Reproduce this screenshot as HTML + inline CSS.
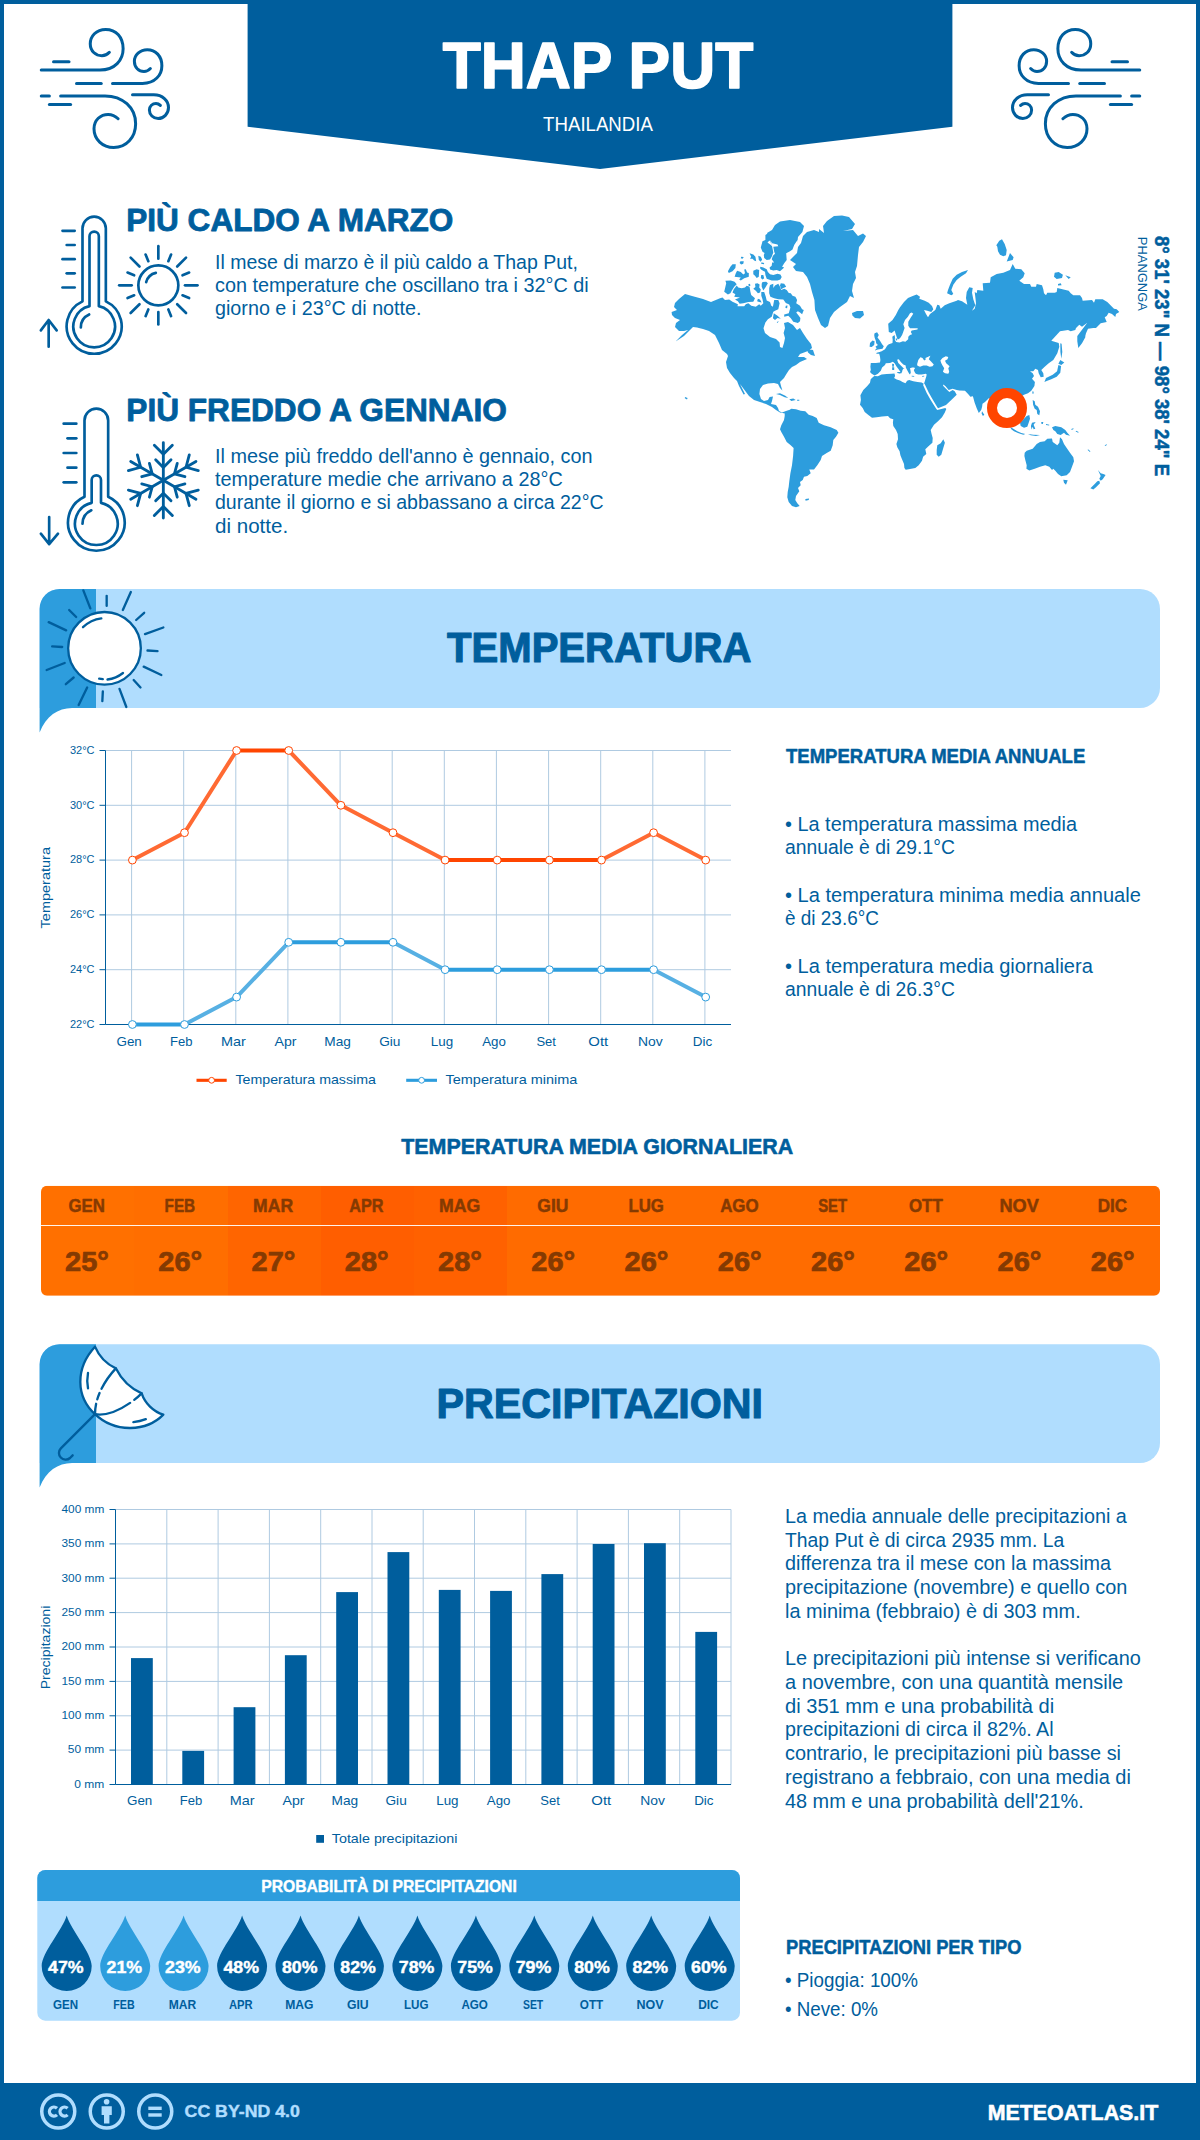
<!DOCTYPE html>
<html><head><meta charset="utf-8"><title>Thap Put</title>
<style>html,body{margin:0;padding:0;background:#fff}svg{display:block}text{font-family:"Liberation Sans",sans-serif;white-space:pre}</style></head>
<body><svg width="1200" height="2140" viewBox="0 0 1200 2140">
<rect x="0" y="0" width="1200" height="2140" fill="#fff"/>
<rect x="2" y="2" width="1196" height="2136" fill="none" stroke="#005e9d" stroke-width="4"/>
<path d="M247.6,0 H952.4 V126.8 L600,169 L247.6,126.8 Z" fill="#005e9d"/>
<g transform="translate(30,20) scale(0.125)" fill="none" stroke="#005e9d" stroke-width="24" stroke-linecap="round" stroke-linejoin="round"><path d="M90,400 H560 C680,400 745,320 745,230 C745,140 690,75 605,75 C530,75 482,130 482,190 C482,250 525,285 575,285 C600,285 620,275 635,258"/><path d="M188,333 H312"/><path d="M660,507 H900 C1000,507 1055,440 1055,365 C1055,290 1005,237 938,237 C880,237 835,280 835,330 C835,380 870,412 912,412 C935,412 950,402 963,388"/><path d="M372,507 H570"/><path d="M245,607 H600 C740,607 845,700 845,830 C845,940 770,1020 670,1020 C580,1020 512,955 512,870 C512,800 565,755 625,755 C660,755 685,770 705,790"/><path d="M90,607 H155"/><path d="M155,675 H325"/><path d="M820,598 H990 C1060,598 1108,645 1108,700 C1108,750 1070,788 1025,788 C985,788 955,757 955,720 C955,690 980,667 1008,667 C1025,667 1035,675 1043,683"/></g>
<g transform="translate(1151,20) scale(-0.125,0.125)" fill="none" stroke="#005e9d" stroke-width="24" stroke-linecap="round" stroke-linejoin="round"><path d="M90,400 H560 C680,400 745,320 745,230 C745,140 690,75 605,75 C530,75 482,130 482,190 C482,250 525,285 575,285 C600,285 620,275 635,258"/><path d="M188,333 H312"/><path d="M660,507 H900 C1000,507 1055,440 1055,365 C1055,290 1005,237 938,237 C880,237 835,280 835,330 C835,380 870,412 912,412 C935,412 950,402 963,388"/><path d="M372,507 H570"/><path d="M245,607 H600 C740,607 845,700 845,830 C845,940 770,1020 670,1020 C580,1020 512,955 512,870 C512,800 565,755 625,755 C660,755 685,770 705,790"/><path d="M90,607 H155"/><path d="M155,675 H325"/><path d="M820,598 H990 C1060,598 1108,645 1108,700 C1108,750 1070,788 1025,788 C985,788 955,757 955,720 C955,690 980,667 1008,667 C1025,667 1035,675 1043,683"/></g>
<g transform="translate(20,190) scale(0.16667)" fill="none" stroke="#005e9d" stroke-width="16" stroke-linecap="round" stroke-linejoin="round"><path d="M375,668 V230 A70,70 0 0 1 515,230 V668 A165,165 0 1 1 375,668 Z"/><path d="M417,697 V278 A28,28 0 0 1 473,278 V697 A125,125 0 1 1 417,697 Z"/><path d="M365,825 A85,85 0 0 1 415,747"/><path d="M255,245 H328"/><path d="M280,330 H328"/><path d="M255,415 H328"/><path d="M280,500 H328"/><path d="M255,585 H328"/><path d="M172,940 V785 M125,842 L172,780 L220,842"/><circle cx="830" cy="572" r="120"/><path d="M757,553 A78,78 0 0 1 815,497"/><path d="M990.0,572.0 L1065.0,572.0"/><path d="M975.0,632.1 L1014.8,648.5"/><path d="M943.1,685.1 L996.2,738.2"/><path d="M890.1,717.0 L906.5,756.8"/><path d="M830.0,732.0 L830.0,807.0"/><path d="M769.9,717.0 L753.5,756.8"/><path d="M716.9,685.1 L663.8,738.2"/><path d="M685.0,632.1 L645.2,648.5"/><path d="M670.0,572.0 L595.0,572.0"/><path d="M685.0,511.9 L645.2,495.5"/><path d="M716.9,458.9 L663.8,405.8"/><path d="M769.9,427.0 L753.5,387.2"/><path d="M830.0,412.0 L830.0,337.0"/><path d="M890.1,427.0 L906.5,387.2"/><path d="M943.1,458.9 L996.2,405.8"/><path d="M975.0,511.9 L1014.8,495.5"/></g>
<g transform="translate(20,380) scale(0.16667)" fill="none" stroke="#005e9d" stroke-width="16" stroke-linecap="round" stroke-linejoin="round"><path d="M387,700 V243 A71,71 0 0 1 529,243 V700 A170,170 0 1 1 387,700 Z"/><path d="M430,737 V600 A28,28 0 0 1 486,600 V737 A128,128 0 1 1 430,737 Z"/><path d="M375,862 A90,90 0 0 1 428,782"/><path d="M262,262 H338"/><path d="M285,350 H338"/><path d="M262,438 H338"/><path d="M285,526 H338"/><path d="M262,614 H338"/><path d="M175,822 V982 M125,922 L175,985 L228,922"/><g stroke-width="17"><path d="M860,602 L860.0,376.0"/><path d="M914.0,391.0 L860.0,445.0 L806.0,391.0"/><path d="M906.0,479.0 L860.0,525.0 L814.0,479.0"/><path d="M860,602 L1055.7,489.0"/><path d="M1069.7,543.3 L996.0,523.5 L1015.7,449.7"/><path d="M989.5,580.3 L926.7,563.5 L943.5,500.7"/><path d="M860,602 L1055.7,715.0"/><path d="M1015.7,754.3 L996.0,680.5 L1069.7,660.7"/><path d="M943.5,703.3 L926.7,640.5 L989.5,623.7"/><path d="M860,602 L860.0,828.0"/><path d="M806.0,813.0 L860.0,759.0 L914.0,813.0"/><path d="M814.0,725.0 L860.0,679.0 L906.0,725.0"/><path d="M860,602 L664.3,715.0"/><path d="M650.3,660.7 L724.0,680.5 L704.3,754.3"/><path d="M730.5,623.7 L793.3,640.5 L776.5,703.3"/><path d="M860,602 L664.3,489.0"/><path d="M704.3,449.7 L724.0,523.5 L650.3,543.3"/><path d="M776.5,500.7 L793.3,563.5 L730.5,580.3"/></g></g>
<path d="M685.0,294.0 692.0,296.0 703.0,299.0 711.0,302.0 720.0,298.3 722.5,297.5 725.0,300.0 729.2,299.6 732.5,301.7 737.9,304.2 737.5,306.3 744.2,306.3 745.8,304.2 748.3,303.3 751.3,305.8 755.8,306.7 759.2,304.2 760.8,305.8 763.3,303.3 762.5,299.2 761.3,295.8 761.3,292.1 764.2,292.1 765.8,296.7 766.7,300.4 770.0,302.1 771.3,305.8 772.9,306.7 774.2,300.0 778.3,300.0 779.6,303.3 778.3,309.2 775.0,310.8 773.3,311.7 771.7,316.7 767.9,319.2 765.4,322.5 763.5,328.3 765.0,333.0 770.0,337.0 776.0,339.0 779.6,342.4 780.0,347.0 782.4,348.0 784.0,343.0 785.0,338.0 783.6,333.0 785.0,328.0 784.0,323.0 788.0,322.0 793.0,325.0 797.0,330.0 800.0,328.0 803.0,333.0 807.0,339.0 811.0,344.0 812.0,348.0 808.0,351.0 800.0,354.0 798.0,357.0 804.0,357.0 807.0,359.0 800.0,362.0 796.0,365.0 792.0,367.0 789.0,370.0 786.4,374.0 784.0,378.0 780.0,382.0 781.0,386.0 782.4,390.6 780.0,388.0 778.0,384.0 774.0,383.0 768.0,383.6 763.0,385.0 760.0,389.0 759.4,394.0 761.0,399.0 764.0,401.0 768.0,400.0 769.6,397.0 773.0,396.4 772.0,401.0 771.0,404.0 776.0,405.0 778.0,408.0 779.0,411.0 782.0,412.4 786.0,411.0 789.0,410.0 788.0,413.0 785.0,413.6 780.0,412.4 776.0,410.0 772.0,407.0 766.0,404.0 760.0,402.0 754.0,400.0 749.0,396.0 746.0,392.0 743.0,388.0 740.0,384.0 737.0,381.0 734.0,378.0 730.0,373.0 727.0,368.0 726.0,362.0 728.0,356.0 727.0,354.0 722.0,350.0 719.0,343.0 715.0,335.0 709.0,331.0 703.0,329.0 697.0,327.6 693.0,327.0 692.0,328.0 684.0,336.0 675.6,341.6 682.0,335.0 688.0,330.0 684.0,331.0 679.0,331.0 675.0,327.0 676.0,323.0 680.0,320.0 675.0,318.0 672.0,315.0 671.6,312.0 677.0,310.0 674.0,307.0 675.0,303.0 679.0,299.0ZM737.0,381.0 739.0,382.0 745.0,394.0 743.6,394.4 739.0,386.0ZM807.0,349.0 813.0,350.0 815.0,356.0 811.0,355.0 808.0,352.4ZM776.0,394.0 780.0,393.3 785.3,395.7 788.3,398.0 784.7,397.3 780.0,395.1ZM789.3,399.3 793.3,398.4 795.7,400.0 791.3,400.9ZM797.1,399.7 799.3,399.7 799.3,400.7 797.1,400.7ZM685.0,397.0 687.6,398.0 687.0,399.4 684.8,398.2ZM784.7,413.3 787.3,411.3 791.3,408.7 796.0,409.3 800.7,410.7 805.3,411.3 808.7,414.7 812.7,416.0 816.7,418.0 818.7,422.7 824.0,425.3 830.7,427.3 836.7,430.0 838.4,432.7 836.0,436.7 833.3,440.0 832.7,445.3 830.7,450.7 826.7,453.1 822.0,456.0 820.7,460.0 817.3,465.3 814.0,469.6 809.3,469.6 810.7,473.3 807.3,476.0 804.0,476.7 802.7,480.0 800.0,482.0 800.7,485.3 798.0,488.0 799.3,491.3 796.0,496.0 795.3,500.0 797.3,503.3 799.7,506.0 796.0,507.3 792.0,506.0 788.7,502.0 787.3,497.3 787.7,492.0 788.7,486.7 789.3,481.3 790.4,473.3 792.0,465.3 793.1,456.0 793.6,448.0 790.7,445.3 786.7,442.0 784.0,436.7 781.3,432.0 780.0,429.3 781.3,425.3 784.0,420.0 784.7,416.0ZM805.3,499.1 809.1,498.4 808.7,500.0 805.6,500.7ZM834.0,216.0 842.0,215.6 849.0,217.0 855.0,224.0 852.0,229.0 843.0,231.0 853.0,230.0 858.0,236.0 863.0,233.6 866.0,236.0 863.0,242.0 859.0,247.0 858.0,255.0 857.0,266.0 855.0,272.0 856.0,278.0 853.0,284.0 852.0,291.0 854.0,298.0 850.0,296.0 847.0,302.0 840.0,307.0 834.0,312.0 830.0,318.0 828.0,326.0 825.0,328.0 821.0,325.0 818.0,318.0 815.0,310.0 814.4,300.0 812.0,292.0 810.0,284.0 807.0,277.0 803.0,272.0 796.0,271.0 793.0,267.0 796.0,264.0 790.0,260.0 793.0,257.0 797.0,253.0 798.0,247.0 801.0,243.0 803.0,236.0 807.0,232.0 814.0,230.0 819.0,232.0 819.0,229.0 824.0,233.0 823.0,226.0 827.0,221.0ZM852.0,313.0 857.0,311.0 863.0,311.0 864.0,315.0 860.0,318.4 855.0,318.0 852.4,315.6ZM725.4,280.8 730.8,280.4 734.6,281.7 736.7,284.2 734.2,286.7 731.7,290.8 730.4,293.3 727.9,294.6 724.2,291.7 725.4,286.7 726.2,283.3ZM736.7,285.4 738.3,287.5 741.7,288.3 745.0,287.5 746.7,285.8 749.6,286.7 750.4,291.7 751.2,295.0 755.0,298.3 753.3,301.7 748.3,302.1 743.3,303.3 739.6,303.8 737.9,301.2 735.0,299.6 740.0,297.5 734.2,296.7 735.4,294.2 732.5,292.5 733.8,289.2ZM737.1,270.8 740.8,272.1 743.3,274.6 745.0,273.3 744.2,269.6 745.8,269.2 747.1,272.5 748.8,272.9 748.8,276.7 744.2,278.3 740.8,280.4 739.2,279.6 740.8,277.5 734.6,276.7 735.8,273.3ZM732.5,264.2 735.8,264.2 735.4,267.9 732.5,271.2 728.8,272.9 727.9,271.2 730.4,266.7ZM741.2,256.7 743.8,257.1 742.5,258.8 740.8,258.3ZM740.4,261.2 743.8,261.2 743.3,263.8 741.2,264.6 739.6,262.9ZM753.3,270.8 756.7,269.2 759.2,270.0 758.8,276.7 756.7,277.9 755.0,275.8 753.3,274.2ZM761.2,275.0 763.3,275.0 764.2,278.3 762.5,279.6 760.8,277.9ZM749.6,253.3 753.3,254.6 755.4,256.7 756.2,261.2 754.2,260.4 752.5,258.8 750.0,258.8 751.2,256.7ZM758.3,255.8 760.8,256.7 762.1,259.6 760.8,261.7 758.8,260.0ZM761.2,262.5 764.2,262.9 763.8,264.2 761.2,263.8ZM762.5,241.2 765.4,240.0 765.4,235.0 769.2,232.5 771.7,236.7 770.0,240.0 767.5,242.5 770.8,245.0 772.1,246.2 773.3,252.5 771.7,256.7 770.0,259.6 766.7,260.0 764.2,257.9 763.8,255.0 764.6,252.9 762.5,251.7 760.8,247.5ZM760.4,266.7 763.3,267.5 766.7,269.2 767.9,272.1 770.0,274.2 773.3,275.0 777.5,273.8 780.4,274.6 781.7,277.1 780.4,279.6 777.5,280.4 771.7,280.4 766.7,278.8 765.4,275.0 765.0,271.7 761.7,270.0 760.0,268.3ZM762.5,282.1 766.2,281.7 767.9,283.3 765.4,287.5 763.3,290.4 761.7,286.7 761.7,283.8ZM755.0,283.8 757.5,283.3 759.6,284.6 759.2,287.5 760.8,289.6 760.0,292.5 757.9,293.3 755.8,290.8 753.3,288.8 755.4,287.1ZM748.3,284.2 750.0,283.8 750.4,285.8 748.8,286.2ZM770.0,285.0 773.3,283.8 773.3,287.9 775.0,285.4 778.3,283.8 780.0,286.7 781.2,290.0 784.2,288.8 786.7,290.0 788.8,292.9 790.8,293.3 792.5,295.8 795.4,296.7 797.1,300.0 796.2,303.3 800.0,305.8 802.1,309.2 803.8,310.0 802.1,314.2 800.0,312.5 797.9,311.2 796.2,312.5 798.8,315.8 800.4,317.9 800.0,321.2 797.9,322.9 793.3,321.7 790.8,318.3 788.3,315.8 784.2,316.7 784.2,314.6 788.8,313.3 790.4,307.5 789.2,304.6 785.8,302.9 783.3,299.6 778.3,299.2 774.2,298.3 770.4,296.7 769.2,293.3 769.2,288.3ZM780.8,283.3 784.2,283.8 786.2,286.7 783.3,287.9 781.2,289.2 780.0,285.4ZM757.9,298.8 760.0,299.6 761.7,302.5 759.2,302.1 757.1,301.2ZM773.8,313.3 777.5,315.8 780.8,318.8 777.5,317.9 775.0,320.0 772.9,318.3ZM776.7,322.1 778.8,321.2 777.5,322.9ZM785.8,305.8 787.5,305.4 787.1,308.3 785.4,307.9ZM780.0,221.6 790.0,220.0 800.0,222.0 804.0,226.0 802.4,232.0 798.0,237.0 797.0,245.0 797.5,240.0 794.2,245.0 792.5,249.6 790.0,251.2 786.2,253.3 786.7,260.0 784.2,263.3 782.1,266.7 784.2,267.5 780.0,271.2 776.7,270.0 773.3,270.4 770.0,269.6 769.6,267.5 771.7,265.8 772.1,262.5 774.2,262.5 771.7,259.2 772.9,255.8 775.0,253.8 774.2,251.7 773.3,246.7 778.3,246.2 777.5,244.6 772.1,243.3 770.0,240.0 772.4,246.0 769.0,239.0 767.0,233.0 772.0,230.0 775.0,225.0ZM874.5,375.9 877.9,376.3 881.6,374.5 886.7,374.0 891.6,373.7 894.5,373.5 895.1,375.9 894.1,377.9 896.7,379.6 900.0,380.4 902.5,382.1 905.5,383.3 907.1,380.8 909.2,380.0 913.3,381.2 917.5,382.1 921.6,382.5 923.7,383.7 923.1,384.9 926.7,392.9 930.4,399.6 934.3,405.7 936.4,409.1 937.3,410.0 945.3,408.0 946.3,408.9 944.7,412.7 942.0,417.3 938.0,421.3 934.0,424.7 930.7,430.0 931.6,434.0 932.7,438.0 932.4,442.7 928.7,446.0 925.3,449.3 926.3,454.0 923.1,456.7 922.0,460.7 918.7,465.3 915.3,468.0 910.0,468.9 905.7,469.7 904.4,468.0 904.0,464.0 902.0,459.3 900.4,455.3 899.6,451.3 897.3,447.3 896.4,444.0 898.0,439.3 897.7,434.0 896.0,430.0 893.3,426.0 892.9,422.7 893.3,419.3 890.0,418.3 888.0,416.0 882.0,416.4 876.7,417.3 872.0,417.7 868.7,415.3 864.7,412.0 862.7,408.0 860.0,404.7 860.9,400.0 860.4,395.3 863.3,390.0 867.3,386.0 870.0,382.7 870.7,379.3 873.3,376.7ZM943.3,439.3 944.9,442.7 943.3,448.0 941.3,454.7 938.7,456.7 936.7,454.7 936.7,450.0 937.3,445.3 940.7,443.3ZM874.6,375.4 871.7,373.8 870.0,372.1 870.8,370.0 870.4,366.7 870.8,362.9 875.8,362.9 880.0,362.5 880.4,360.0 880.0,356.7 879.2,353.8 876.2,353.8 876.7,352.7 879.6,352.1 881.7,351.2 885.0,349.2 887.1,345.8 888.8,344.2 892.5,342.9 892.7,340.0 892.3,336.7 894.6,335.0 895.0,337.5 894.8,340.0 896.2,342.1 899.6,342.5 902.9,341.2 905.4,341.7 908.2,339.2 908.3,336.7 910.0,335.0 912.1,334.2 910.8,332.1 911.7,330.4 917.5,329.5 917.7,328.3 910.0,328.2 908.3,325.8 908.3,321.7 910.8,317.5 913.3,313.8 911.7,312.5 910.0,313.3 907.9,316.7 905.0,320.0 903.3,324.2 904.6,327.9 903.3,331.7 902.1,335.0 900.0,338.3 897.9,339.6 897.1,338.3 895.8,334.2 894.6,330.4 891.7,332.9 888.8,332.1 888.2,323.8 892.5,320.0 895.8,315.0 898.3,310.0 900.0,307.3 904.0,302.0 908.0,298.0 912.7,296.0 916.7,294.4 920.0,296.7 919.3,298.7 924.7,300.7 928.7,302.7 932.0,306.0 933.3,309.3 931.3,312.0 927.3,310.7 924.0,310.0 926.0,314.0 928.0,317.3 930.0,314.0 935.3,310.0 937.3,304.7 939.3,305.3 940.7,308.7 944.7,305.3 949.3,303.3 956.7,300.7 958.0,300.0 962.0,301.3 967.3,304.7 966.0,298.0 966.7,292.0 969.3,287.3 972.7,288.0 972.0,292.7 973.3,299.3 975.3,305.3 972.0,310.7 974.7,308.7 976.0,303.3 975.3,296.7 974.7,292.0 976.7,293.3 977.3,290.0 983.3,290.7 982.7,283.3 990.0,282.7 990.7,277.3 996.7,274.0 1003.3,272.7 1010.0,270.0 1012.7,264.0 1015.3,268.7 1021.3,269.3 1024.7,273.3 1023.3,277.3 1019.3,280.7 1024.0,284.0 1030.0,284.0 1031.3,286.7 1036.0,286.7 1036.7,284.0 1042.0,285.3 1043.3,289.3 1044.0,293.3 1046.0,295.3 1047.3,292.7 1054.7,292.7 1056.7,292.0 1057.3,288.0 1068.7,290.7 1070.7,293.3 1073.3,295.3 1080.0,295.3 1082.0,298.0 1082.7,300.7 1092.0,300.0 1094.0,302.7 1095.3,299.3 1102.7,299.3 1107.3,302.0 1114.0,308.7 1116.7,309.3 1119.3,312.0 1116.0,314.0 1115.3,317.1 1112.0,314.0 1108.7,312.7 1106.7,316.0 1104.7,317.3 1106.7,322.0 1100.7,323.3 1096.0,328.0 1093.3,328.0 1088.0,328.7 1086.0,333.3 1085.3,336.0 1085.3,337.3 1082.0,343.3 1078.3,348.0 1077.3,341.3 1077.3,336.0 1087.3,322.7 1082.0,326.7 1079.3,324.7 1076.0,328.0 1075.3,330.0 1070.7,331.3 1068.0,330.0 1060.0,331.3 1051.3,340.7 1058.7,342.9 1059.3,346.7 1057.3,353.3 1053.3,360.0 1048.7,363.3 1044.7,366.7 1041.3,370.0 1043.3,373.3 1043.7,376.7 1040.7,377.3 1038.7,373.3 1038.0,370.0 1035.3,368.7 1033.3,371.3 1030.0,371.3 1032.7,373.3 1034.0,376.0 1032.0,378.7 1034.9,382.0 1034.4,386.0 1031.3,390.7 1028.0,393.3 1024.0,394.7 1020.0,397.3 1021.7,394.2 1023.3,398.3 1025.0,403.3 1023.3,407.5 1018.3,409.2 1014.2,411.7 1011.7,416.7 1013.3,423.3 1010.0,421.7 1006.7,416.7 1005.0,410.0 1001.7,405.8 997.5,401.7 993.3,400.0 988.8,398.3 985.0,402.1 982.5,403.8 982.1,406.7 981.2,410.0 978.8,412.9 976.7,408.3 974.6,402.5 972.9,396.2 970.4,396.7 968.3,394.2 965.0,390.8 960.0,390.4 960.7,390.7 956.7,390.0 952.7,388.7 948.7,390.0 945.3,386.0 943.3,384.4 943.1,385.7 946.0,388.7 949.3,392.0 952.7,390.0 954.7,391.3 956.7,394.7 951.3,400.0 946.0,404.9 938.0,408.3 936.4,405.7 932.4,399.1 928.7,392.4 924.9,384.4 924.1,383.3 923.8,383.8 924.6,382.1 925.4,379.2 926.2,376.7 926.7,374.6 925.8,373.8 921.7,374.6 918.3,374.6 915.8,373.8 914.6,372.1 913.8,370.0 915.0,368.3 914.2,367.5 912.1,367.5 910.0,368.3 910.4,370.0 910.8,372.5 910.0,374.6 909.2,373.8 907.5,370.8 905.8,367.5 905.7,365.4 903.3,364.6 900.8,362.1 898.8,359.2 897.1,359.8 898.3,362.9 900.8,365.4 903.3,367.9 904.6,368.3 903.3,368.8 902.5,370.0 902.1,371.7 901.2,373.5 900.0,371.2 898.8,369.6 896.7,366.7 894.6,363.3 892.9,361.7 890.0,362.9 885.8,363.3 885.0,365.0 882.1,367.5 880.8,370.8 877.9,373.8ZM968.0,270.0 962.0,272.0 956.7,274.7 952.7,278.7 950.0,284.7 948.0,290.0 947.1,293.3 951.3,295.3 953.3,294.0 951.3,290.0 953.3,284.7 956.7,280.0 960.7,276.7 966.0,273.3ZM874.6,333.3 877.1,332.3 878.8,335.0 877.5,337.5 880.0,340.8 882.1,344.2 883.8,346.2 882.5,348.8 877.9,349.6 874.6,350.4 876.7,348.3 875.4,346.7 877.9,345.0 876.2,343.3 875.8,340.8 874.6,337.5 874.2,335.0ZM870.0,342.9 872.5,340.4 874.6,341.2 874.2,345.0 871.7,347.1 869.6,346.7ZM897.1,372.1 900.8,372.1 900.4,373.8 897.5,372.9ZM892.1,363.8 894.0,364.0 893.8,366.7 892.3,366.7ZM892.1,367.3 894.2,367.3 894.2,370.0 892.2,370.0ZM911.7,375.8 914.2,376.0 914.2,376.7 911.7,376.5ZM922.1,376.0 924.2,375.7 924.2,376.5 922.1,376.7ZM895.8,338.3 897.1,338.8 897.1,340.4 895.8,340.2ZM1002.0,239.3 1004.7,244.0 1006.7,250.0 1006.0,255.3 1003.3,256.3 1000.0,254.7 998.0,251.3 997.3,246.7 996.3,245.3 999.3,240.7ZM1010.0,253.1 1013.6,257.3 1012.7,260.0 1006.7,261.6ZM1054.7,272.7 1058.7,272.0 1062.9,274.7 1062.0,278.0 1056.7,278.9 1054.0,276.7ZM1065.3,275.3 1070.7,277.3 1068.7,278.9ZM1058.0,284.0 1060.7,283.3 1061.6,285.3 1058.0,285.6ZM1060.3,360.0 1064.3,362.4 1061.3,365.1 1058.4,363.7ZM1058.4,365.1 1057.1,371.3 1052.7,374.7 1046.0,378.0 1044.4,382.0 1046.7,381.1 1051.3,379.3 1056.7,376.7 1060.3,372.7 1061.1,366.0ZM1060.3,343.3 1061.6,343.7 1062.3,352.0 1061.3,358.7 1060.4,352.0ZM1032.4,391.3 1033.7,391.7 1033.3,394.0 1032.4,393.6ZM1024.7,452.7 1026.7,450.7 1032.7,448.7 1036.7,444.0 1040.0,442.0 1044.7,441.3 1047.3,438.7 1052.0,438.4 1052.7,442.0 1057.3,445.3 1059.3,442.7 1060.0,437.3 1062.0,439.3 1064.0,444.0 1066.7,448.0 1070.0,452.7 1073.3,457.3 1074.0,461.3 1072.0,466.7 1070.0,472.0 1066.7,475.3 1061.3,476.3 1058.0,474.0 1055.3,470.7 1053.3,468.7 1052.0,470.0 1049.3,466.7 1045.3,465.3 1040.0,466.7 1034.7,468.7 1029.3,470.4 1026.4,468.7 1026.7,465.3 1025.3,460.0 1024.4,456.0ZM1063.3,479.7 1067.7,480.3 1066.0,484.7 1064.0,482.7ZM1098.0,470.0 1100.7,473.3 1103.3,474.0 1105.6,474.9 1102.7,479.3 1100.7,480.7 1099.3,478.7 1100.7,476.0ZM1099.3,480.7 1100.0,483.3 1096.0,487.3 1093.3,489.6 1090.4,488.3 1094.7,484.0 1097.3,481.3ZM1052.0,427.3 1055.3,426.0 1061.3,427.3 1065.3,430.0 1067.3,432.7 1070.0,435.7 1066.0,434.7 1064.0,432.7 1060.7,434.9 1057.3,434.0 1055.3,431.3 1053.3,430.0ZM1026.7,416.0 1029.3,414.9 1030.0,418.7 1028.7,422.7 1027.3,426.7 1024.0,427.7 1020.7,426.0 1020.0,422.7 1022.7,420.0ZM1010.0,426.7 1013.3,428.7 1017.3,431.3 1021.3,433.1 1025.3,434.0 1023.3,434.7 1018.7,433.3 1014.0,431.3 1011.3,429.3ZM1028.0,434.0 1033.3,434.7 1040.0,434.9 1036.0,436.0 1030.7,435.3ZM1032.0,422.7 1035.7,422.1 1033.6,424.7 1035.3,428.7 1033.6,429.3 1032.7,426.7 1031.6,429.6 1030.9,426.0ZM1032.7,400.0 1034.7,401.3 1035.3,404.7 1038.0,406.7 1040.0,411.3 1039.3,415.3 1037.3,414.0 1036.7,410.0 1034.7,408.7 1033.1,404.7ZM982.0,411.3 984.3,414.7 982.9,416.0 981.6,413.6ZM1071.3,429.1 1073.3,428.3 1073.6,429.1 1071.7,429.9ZM1076.0,430.7 1078.7,432.0 1078.1,432.7 1075.7,431.5ZM1088.0,449.3 1090.4,451.3 1089.9,452.0 1087.7,450.1ZM1104.7,445.3 1106.7,444.3 1106.9,444.9 1105.1,446.1ZM1041.3,422.0 1043.3,422.0 1042.9,424.0 1041.3,423.7ZM1046.0,424.0 1049.3,424.7 1049.1,425.6 1046.0,425.1Z" fill="#2d9ddd"/>
<path d="M917.1,364.2 918.3,360.0 920.4,357.3 922.5,357.9 924.2,360.4 925.8,359.6 925.4,357.9 930.4,355.8 928.8,359.2 930.8,361.2 933.8,364.6 932.5,366.2 929.6,366.7 926.7,365.4 923.3,365.4 920.0,366.7 917.5,365.8ZM940.4,360.4 942.5,357.9 945.8,356.2 948.3,357.1 947.5,359.2 945.0,360.8 946.2,363.3 949.6,366.2 948.3,368.3 949.2,371.7 948.3,373.8 945.0,373.3 942.9,371.7 944.2,368.3 942.5,365.4 941.2,362.9Z" fill="#fff"/>
<circle cx="1007" cy="408" r="15" fill="#fff" stroke="#ff4500" stroke-width="10"/>
<path d="M59.6,589 H1140 A20,20 0 0 1 1160,609 V687.9 A20,20 0 0 1 1140,707.9 H39.6 V609 A20,20 0 0 1 59.6,589 Z" fill="#b0ddfe"/><path d="M59.6,589 H96 V707.9 H72 C58,707.9 46,715.9 39.6,732.4 V609 A20,20 0 0 1 59.6,589 Z" fill="#2d9ddd"/>
<path d="M59.6,1344.2 H1140 A20,20 0 0 1 1160,1364.2 V1443.1000000000001 A20,20 0 0 1 1140,1463.1000000000001 H39.6 V1364.2 A20,20 0 0 1 59.6,1344.2 Z" fill="#b0ddfe"/><path d="M59.6,1344.2 H96 V1463.1000000000001 H72 C58,1463.1000000000001 46,1471.1000000000001 39.6,1487.6000000000001 V1364.2 A20,20 0 0 1 59.6,1344.2 Z" fill="#2d9ddd"/>
<g transform="translate(30,580) scale(0.16667)" fill="none" stroke="#005e9d" stroke-width="14" stroke-linecap="round"><circle cx="447" cy="410" r="218" fill="#fff"/><path d="M318,283 A195,195 0 0 1 428,230"/><path d="M465,597 A190,190 0 0 0 558,558"/><path d="M415,592 L437,595"/><path d="M320,62 L362,170"/><path d="M460,95 L460,155"/><path d="M605,72 L557,180"/><path d="M685,197 L637,240"/><path d="M800,285 L690,325"/><path d="M705,423 L765,427"/><path d="M682,520 L788,570"/><path d="M622,600 L663,645"/><path d="M537,653 L578,762"/><path d="M437,668 L434,727"/><path d="M343,645 L292,750"/><path d="M262,585 L215,625"/><path d="M208,498 L100,540"/><path d="M133,398 L193,402"/><path d="M112,253 L217,302"/><path d="M235,180 L277,222"/></g>
<g transform="translate(30,1330) scale(0.16667)" fill="none" stroke="#005e9d" stroke-width="14" stroke-linecap="round" stroke-linejoin="round"><path d="M390,100 C270,230 275,400 390,505 C510,620 700,610 800,508 C740,490 690,440 670,380 C600,350 545,290 515,230 C460,205 415,160 390,100 Z" fill="#fff"/><path d="M515,230 C450,300 390,400 390,505" stroke-dasharray="150 28 40 28 400"/><path d="M670,380 C600,450 480,520 390,505" stroke-dasharray="60 30 400"/><path d="M348,258 C342,290 342,320 348,350"/><path d="M620,553 C650,550 675,543 695,535"/><path d="M390,505 L185,710 A40,40 0 0 0 240,768 L256,752"/></g>
<g stroke="#afcae1" stroke-width="1" fill="none"><path d="M105.5,1024.5 H731.0"/><path d="M105.5,969.7 H731.0"/><path d="M105.5,914.9 H731.0"/><path d="M105.5,860.1 H731.0"/><path d="M105.5,805.3 H731.0"/><path d="M105.5,750.5 H731.0"/><path d="M131.6,750.5 V1024.5"/><path d="M183.7,750.5 V1024.5"/><path d="M235.8,750.5 V1024.5"/><path d="M287.9,750.5 V1024.5"/><path d="M340.1,750.5 V1024.5"/><path d="M392.2,750.5 V1024.5"/><path d="M444.3,750.5 V1024.5"/><path d="M496.4,750.5 V1024.5"/><path d="M548.6,750.5 V1024.5"/><path d="M600.7,750.5 V1024.5"/><path d="M652.8,750.5 V1024.5"/><path d="M704.9,750.5 V1024.5"/></g>
<g stroke="#005e9d" stroke-width="1" fill="none"><path d="M105.5,750.5 V1024.5 H731.0"/><path d="M99.5,1024.5 H105.5"/><path d="M99.5,969.7 H105.5"/><path d="M99.5,914.9 H105.5"/><path d="M99.5,860.1 H105.5"/><path d="M99.5,805.3 H105.5"/><path d="M99.5,750.5 H105.5"/></g>
<g fill="none" stroke-width="4" stroke-linecap="round"><path d="M132.4,860.1 L184.5,832.7" stroke="#ff6a33"/><path d="M184.5,832.7 L236.6,750.5" stroke="#ff6a33"/><path d="M236.6,750.5 L288.7,750.5" stroke="#ff4500"/><path d="M288.7,750.5 L340.9,805.3" stroke="#ff6a33"/><path d="M340.9,805.3 L393.0,832.7" stroke="#ff6a33"/><path d="M393.0,832.7 L445.1,860.1" stroke="#ff6a33"/><path d="M445.1,860.1 L497.2,860.1" stroke="#ff4500"/><path d="M497.2,860.1 L549.4,860.1" stroke="#ff4500"/><path d="M549.4,860.1 L601.5,860.1" stroke="#ff4500"/><path d="M601.5,860.1 L653.6,832.7" stroke="#ff6a33"/><path d="M653.6,832.7 L705.7,860.1" stroke="#ff6a33"/></g>
<circle cx="132.4" cy="860.1" r="3.9" fill="#fff" stroke="#ff4500" stroke-width="1"/><circle cx="184.5" cy="832.7" r="3.9" fill="#fff" stroke="#ff4500" stroke-width="1"/><circle cx="236.6" cy="750.5" r="3.9" fill="#fff" stroke="#ff4500" stroke-width="1"/><circle cx="288.7" cy="750.5" r="3.9" fill="#fff" stroke="#ff4500" stroke-width="1"/><circle cx="340.9" cy="805.3" r="3.9" fill="#fff" stroke="#ff4500" stroke-width="1"/><circle cx="393.0" cy="832.7" r="3.9" fill="#fff" stroke="#ff4500" stroke-width="1"/><circle cx="445.1" cy="860.1" r="3.9" fill="#fff" stroke="#ff4500" stroke-width="1"/><circle cx="497.2" cy="860.1" r="3.9" fill="#fff" stroke="#ff4500" stroke-width="1"/><circle cx="549.4" cy="860.1" r="3.9" fill="#fff" stroke="#ff4500" stroke-width="1"/><circle cx="601.5" cy="860.1" r="3.9" fill="#fff" stroke="#ff4500" stroke-width="1"/><circle cx="653.6" cy="832.7" r="3.9" fill="#fff" stroke="#ff4500" stroke-width="1"/><circle cx="705.7" cy="860.1" r="3.9" fill="#fff" stroke="#ff4500" stroke-width="1"/>
<g fill="none" stroke-width="4" stroke-linecap="round"><path d="M132.4,1024.5 L184.5,1024.5" stroke="#2d9ddd"/><path d="M184.5,1024.5 L236.6,997.1" stroke="#57b0e3"/><path d="M236.6,997.1 L288.7,942.3" stroke="#57b0e3"/><path d="M288.7,942.3 L340.9,942.3" stroke="#2d9ddd"/><path d="M340.9,942.3 L393.0,942.3" stroke="#2d9ddd"/><path d="M393.0,942.3 L445.1,969.7" stroke="#57b0e3"/><path d="M445.1,969.7 L497.2,969.7" stroke="#2d9ddd"/><path d="M497.2,969.7 L549.4,969.7" stroke="#2d9ddd"/><path d="M549.4,969.7 L601.5,969.7" stroke="#2d9ddd"/><path d="M601.5,969.7 L653.6,969.7" stroke="#2d9ddd"/><path d="M653.6,969.7 L705.7,997.1" stroke="#57b0e3"/></g>
<circle cx="132.4" cy="1024.5" r="3.9" fill="#fff" stroke="#2d9ddd" stroke-width="1"/><circle cx="184.5" cy="1024.5" r="3.9" fill="#fff" stroke="#2d9ddd" stroke-width="1"/><circle cx="236.6" cy="997.1" r="3.9" fill="#fff" stroke="#2d9ddd" stroke-width="1"/><circle cx="288.7" cy="942.3" r="3.9" fill="#fff" stroke="#2d9ddd" stroke-width="1"/><circle cx="340.9" cy="942.3" r="3.9" fill="#fff" stroke="#2d9ddd" stroke-width="1"/><circle cx="393.0" cy="942.3" r="3.9" fill="#fff" stroke="#2d9ddd" stroke-width="1"/><circle cx="445.1" cy="969.7" r="3.9" fill="#fff" stroke="#2d9ddd" stroke-width="1"/><circle cx="497.2" cy="969.7" r="3.9" fill="#fff" stroke="#2d9ddd" stroke-width="1"/><circle cx="549.4" cy="969.7" r="3.9" fill="#fff" stroke="#2d9ddd" stroke-width="1"/><circle cx="601.5" cy="969.7" r="3.9" fill="#fff" stroke="#2d9ddd" stroke-width="1"/><circle cx="653.6" cy="969.7" r="3.9" fill="#fff" stroke="#2d9ddd" stroke-width="1"/><circle cx="705.7" cy="997.1" r="3.9" fill="#fff" stroke="#2d9ddd" stroke-width="1"/>
<path d="M196.5,1080.3 H226.7" stroke="#ff4500" stroke-width="3.1"/><circle cx="211.6" cy="1080.3" r="2.9" fill="#fff" stroke="#ff4500" stroke-width="1"/>
<path d="M406.2,1080.3 H437" stroke="#2d9ddd" stroke-width="3.1"/><circle cx="421.6" cy="1080.3" r="2.9" fill="#fff" stroke="#2d9ddd" stroke-width="1"/>
<clipPath id="tc"><rect x="41" y="1185.8" width="1119" height="110.0" rx="6"/></clipPath>
<g clip-path="url(#tc)"><rect x="41" y="1185.8" width="93" height="110.0" fill="#ff7000"/><rect x="134" y="1185.8" width="94" height="110.0" fill="#ff6e00"/><rect x="228" y="1185.8" width="93" height="110.0" fill="#ff6500"/><rect x="321" y="1185.8" width="93" height="110.0" fill="#ff5e00"/><rect x="414" y="1185.8" width="93" height="110.0" fill="#ff6100"/><rect x="507" y="1185.8" width="93" height="110.0" fill="#ff6b00"/><rect x="600" y="1185.8" width="94" height="110.0" fill="#ff6c00"/><rect x="694" y="1185.8" width="93" height="110.0" fill="#ff6c00"/><rect x="787" y="1185.8" width="93" height="110.0" fill="#ff6c00"/><rect x="880" y="1185.8" width="94" height="110.0" fill="#ff6c00"/><rect x="974" y="1185.8" width="93" height="110.0" fill="#ff6c00"/><rect x="1067" y="1185.8" width="93" height="110.0" fill="#ff6c00"/><rect x="41" y="1225" width="1119" height="1" fill="#fff" fill-opacity="0.92"/></g>
<g stroke="#afcae1" stroke-width="1" fill="none"><path d="M115.5,1784.5 H731.0"/><path d="M115.5,1750.1 H731.0"/><path d="M115.5,1715.8 H731.0"/><path d="M115.5,1681.4 H731.0"/><path d="M115.5,1647.0 H731.0"/><path d="M115.5,1612.6 H731.0"/><path d="M115.5,1578.2 H731.0"/><path d="M115.5,1543.9 H731.0"/><path d="M115.5,1509.5 H731.0"/><path d="M166.8,1509.5 V1784.5"/><path d="M218.1,1509.5 V1784.5"/><path d="M269.4,1509.5 V1784.5"/><path d="M320.7,1509.5 V1784.5"/><path d="M372.0,1509.5 V1784.5"/><path d="M423.2,1509.5 V1784.5"/><path d="M474.5,1509.5 V1784.5"/><path d="M525.8,1509.5 V1784.5"/><path d="M577.1,1509.5 V1784.5"/><path d="M628.4,1509.5 V1784.5"/><path d="M679.7,1509.5 V1784.5"/><path d="M731.0,1509.5 V1784.5"/></g>
<g fill="#005e9d"><rect x="131.0" y="1658.1" width="21.8" height="126.4"/><rect x="182.3" y="1750.9" width="21.8" height="33.6"/><rect x="233.6" y="1707.2" width="21.8" height="77.3"/><rect x="284.9" y="1655.2" width="21.8" height="129.2"/><rect x="336.2" y="1592.1" width="21.8" height="192.4"/><rect x="387.5" y="1552.1" width="21.8" height="232.4"/><rect x="438.8" y="1589.9" width="21.8" height="194.6"/><rect x="490.1" y="1590.9" width="21.8" height="193.6"/><rect x="541.4" y="1574.1" width="21.8" height="210.4"/><rect x="592.7" y="1544.0" width="21.8" height="240.5"/><rect x="644.0" y="1543.2" width="21.8" height="241.3"/><rect x="695.3" y="1631.9" width="21.8" height="152.6"/></g>
<g stroke="#005e9d" stroke-width="1" fill="none"><path d="M115.5,1509.5 V1784.5 H731.0"/><path d="M109.5,1784.5 H115.5"/><path d="M109.5,1750.1 H115.5"/><path d="M109.5,1715.8 H115.5"/><path d="M109.5,1681.4 H115.5"/><path d="M109.5,1647.0 H115.5"/><path d="M109.5,1612.6 H115.5"/><path d="M109.5,1578.2 H115.5"/><path d="M109.5,1543.9 H115.5"/><path d="M109.5,1509.5 H115.5"/></g>
<rect x="316.2" y="1835" width="7.8" height="7.8" fill="#005e9d"/>
<path d="M37.3,2020.7 V1878 A8,8 0 0 1 45.3,1870 H732 A8,8 0 0 1 740,1878 V2012.7 A8,8 0 0 1 732,2020.7 H45.3 A8,8 0 0 1 37.3,2012.7 Z" fill="#b0ddfe"/>
<path d="M37.3,1901 V1878 A8,8 0 0 1 45.3,1870 H732 A8,8 0 0 1 740,1878 V1901 Z" fill="#2d9ddd"/>
<path d="M66.7,1915.5 C70.7,1929.5 91.7,1953 91.7,1966 A25,25 0 0 1 41.7,1966 C41.7,1953 62.7,1929.5 66.7,1915.5 Z" fill="#005e9d"/>
<path d="M125.2,1915.5 C129.2,1929.5 150.2,1953 150.2,1966 A25,25 0 0 1 100.2,1966 C100.2,1953 121.2,1929.5 125.2,1915.5 Z" fill="#2d9ddd"/>
<path d="M183.6,1915.5 C187.6,1929.5 208.6,1953 208.6,1966 A25,25 0 0 1 158.6,1966 C158.6,1953 179.6,1929.5 183.6,1915.5 Z" fill="#2d9ddd"/>
<path d="M242.1,1915.5 C246.1,1929.5 267.1,1953 267.1,1966 A25,25 0 0 1 217.1,1966 C217.1,1953 238.1,1929.5 242.1,1915.5 Z" fill="#005e9d"/>
<path d="M300.5,1915.5 C304.5,1929.5 325.5,1953 325.5,1966 A25,25 0 0 1 275.5,1966 C275.5,1953 296.5,1929.5 300.5,1915.5 Z" fill="#005e9d"/>
<path d="M358.9,1915.5 C362.9,1929.5 383.9,1953 383.9,1966 A25,25 0 0 1 333.9,1966 C333.9,1953 354.9,1929.5 358.9,1915.5 Z" fill="#005e9d"/>
<path d="M417.4,1915.5 C421.4,1929.5 442.4,1953 442.4,1966 A25,25 0 0 1 392.4,1966 C392.4,1953 413.4,1929.5 417.4,1915.5 Z" fill="#005e9d"/>
<path d="M475.9,1915.5 C479.9,1929.5 500.9,1953 500.9,1966 A25,25 0 0 1 450.9,1966 C450.9,1953 471.9,1929.5 475.9,1915.5 Z" fill="#005e9d"/>
<path d="M534.3,1915.5 C538.3,1929.5 559.3,1953 559.3,1966 A25,25 0 0 1 509.29999999999995,1966 C509.29999999999995,1953 530.3,1929.5 534.3,1915.5 Z" fill="#005e9d"/>
<path d="M592.8,1915.5 C596.8,1929.5 617.8,1953 617.8,1966 A25,25 0 0 1 567.8,1966 C567.8,1953 588.8,1929.5 592.8,1915.5 Z" fill="#005e9d"/>
<path d="M651.2,1915.5 C655.2,1929.5 676.2,1953 676.2,1966 A25,25 0 0 1 626.2,1966 C626.2,1953 647.2,1929.5 651.2,1915.5 Z" fill="#005e9d"/>
<path d="M709.7,1915.5 C713.7,1929.5 734.7,1953 734.7,1966 A25,25 0 0 1 684.7,1966 C684.7,1953 705.7,1929.5 709.7,1915.5 Z" fill="#005e9d"/>
<rect x="0" y="2083" width="1200" height="57" fill="#005e9d"/>
<g fill="none" stroke="#b0ddfe" stroke-width="3.5"><circle cx="58.25" cy="2111.5" r="16.5"/><circle cx="106.75" cy="2111.5" r="16.5"/><circle cx="155.25" cy="2111.5" r="16.5"/></g><g fill="none" stroke="#b0ddfe" stroke-width="3.3"><path d="M57,2108.3 A4.5,4.5 0 1 0 57,2114.9"/><path d="M67.6,2108.3 A4.5,4.5 0 1 0 67.6,2114.9"/></g><circle cx="106.6" cy="2101.7" r="2.8" fill="#b0ddfe"/><path d="M101.6,2106.2 h10.2 v8.8 h-2.4 v8.4 h-5.4 v-8.4 h-2.4 Z" fill="#b0ddfe"/><rect x="148.3" y="2106.6" width="13.4" height="3.4" fill="#b0ddfe"/><rect x="148.3" y="2113.3" width="13.4" height="3.4" fill="#b0ddfe"/>
<g>
<text x="442.75" y="88.17" font-size="64.2" font-weight="700" fill="#fff" stroke="#fff" stroke-width="1.67" stroke-linejoin="round" textLength="310.50" lengthAdjust="spacingAndGlyphs">THAP PUT</text>
<text x="543.10" y="131.00" font-size="20.8" font-weight="400" fill="#fff" textLength="109.80" lengthAdjust="spacingAndGlyphs">THAILANDIA</text>
<text x="126.30" y="231.48" font-size="32.0" font-weight="700" fill="#005e9d" stroke="#005e9d" stroke-width="0.83" stroke-linejoin="round" textLength="326.97" lengthAdjust="spacingAndGlyphs">PIÙ CALDO A MARZO</text>
<text x="215.00" y="268.75" font-size="20.31" font-weight="400" fill="#005e9d" textLength="362.89" lengthAdjust="spacingAndGlyphs">Il mese di marzo è il più caldo a Thap Put,</text>
<text x="215.00" y="291.65" font-size="20.31" font-weight="400" fill="#005e9d" textLength="373.64" lengthAdjust="spacingAndGlyphs">con temperature che oscillano tra i 32°C di</text>
<text x="215.00" y="314.55" font-size="20.31" font-weight="400" fill="#005e9d" textLength="206.55" lengthAdjust="spacingAndGlyphs">giorno e i 23°C di notte.</text>
<text x="126.30" y="421.48" font-size="32.0" font-weight="700" fill="#005e9d" stroke="#005e9d" stroke-width="0.83" stroke-linejoin="round" textLength="380.61" lengthAdjust="spacingAndGlyphs">PIÙ FREDDO A GENNAIO</text>
<text x="215.00" y="462.80" font-size="20.31" font-weight="400" fill="#005e9d" textLength="377.59" lengthAdjust="spacingAndGlyphs">Il mese più freddo dell&#x27;anno è gennaio, con</text>
<text x="215.00" y="486.10" font-size="20.31" font-weight="400" fill="#005e9d" textLength="347.78" lengthAdjust="spacingAndGlyphs">temperature medie che arrivano a 28°C</text>
<text x="215.00" y="509.40" font-size="20.31" font-weight="400" fill="#005e9d" textLength="388.61" lengthAdjust="spacingAndGlyphs">durante il giorno e si abbassano a circa 22°C</text>
<text x="215.00" y="532.70" font-size="20.31" font-weight="400" fill="#005e9d" textLength="73.11" lengthAdjust="spacingAndGlyphs">di notte.</text>
<text x="0.00" y="-0.26" font-size="20.0" font-weight="700" fill="#005e9d" stroke="#005e9d" stroke-width="0.52" stroke-linejoin="round" textLength="240.00" lengthAdjust="spacingAndGlyphs" transform="translate(1155.00,236.00) rotate(90)">8° 31&#x27; 23&quot; N — 98° 38&#x27; 24&quot; E</text>
<text x="0.00" y="0.00" font-size="13.6" font-weight="400" fill="#005e9d" textLength="74.16" lengthAdjust="spacingAndGlyphs" transform="translate(1138.20,236.80) rotate(90)">PHANGNGA</text>
<text x="447.00" y="662.26" font-size="41.8" font-weight="700" fill="#005e9d" stroke="#005e9d" stroke-width="1.09" stroke-linejoin="round" textLength="304.40" lengthAdjust="spacingAndGlyphs">TEMPERATURA</text>
<text x="436.55" y="1418.26" font-size="41.8" font-weight="700" fill="#005e9d" stroke="#005e9d" stroke-width="1.09" stroke-linejoin="round" textLength="326.50" lengthAdjust="spacingAndGlyphs">PRECIPITAZIONI</text>
<text x="786.00" y="763.45" font-size="19.53" font-weight="700" fill="#005e9d" stroke="#005e9d" stroke-width="0.51" stroke-linejoin="round" textLength="299.30" lengthAdjust="spacingAndGlyphs">TEMPERATURA MEDIA ANNUALE</text>
<text x="785.00" y="830.80" font-size="20.31" font-weight="400" fill="#005e9d" textLength="292.03" lengthAdjust="spacingAndGlyphs">• La temperatura massima media</text>
<text x="785.00" y="854.30" font-size="20.31" font-weight="400" fill="#005e9d" textLength="169.86" lengthAdjust="spacingAndGlyphs">annuale è di 29.1°C</text>
<text x="785.00" y="901.60" font-size="20.31" font-weight="400" fill="#005e9d" textLength="355.80" lengthAdjust="spacingAndGlyphs">• La temperatura minima media annuale</text>
<text x="785.00" y="925.10" font-size="20.31" font-weight="400" fill="#005e9d" textLength="93.95" lengthAdjust="spacingAndGlyphs">è di 23.6°C</text>
<text x="785.00" y="972.80" font-size="20.31" font-weight="400" fill="#005e9d" textLength="307.81" lengthAdjust="spacingAndGlyphs">• La temperatura media giornaliera</text>
<text x="785.00" y="996.40" font-size="20.31" font-weight="400" fill="#005e9d" textLength="169.86" lengthAdjust="spacingAndGlyphs">annuale è di 26.3°C</text>
<text x="401.19" y="1154.21" font-size="22.0" font-weight="700" fill="#005e9d" stroke="#005e9d" stroke-width="0.57" stroke-linejoin="round" textLength="392.02" lengthAdjust="spacingAndGlyphs">TEMPERATURA MEDIA GIORNALIERA</text>
<text x="785.00" y="1523.00" font-size="20.31" font-weight="400" fill="#005e9d" textLength="341.78" lengthAdjust="spacingAndGlyphs">La media annuale delle precipitazioni a</text>
<text x="785.00" y="1546.71" font-size="20.31" font-weight="400" fill="#005e9d" textLength="279.14" lengthAdjust="spacingAndGlyphs">Thap Put è di circa 2935 mm. La</text>
<text x="785.00" y="1570.42" font-size="20.31" font-weight="400" fill="#005e9d" textLength="326.02" lengthAdjust="spacingAndGlyphs">differenza tra il mese con la massima</text>
<text x="785.00" y="1594.13" font-size="20.31" font-weight="400" fill="#005e9d" textLength="342.28" lengthAdjust="spacingAndGlyphs">precipitazione (novembre) e quello con</text>
<text x="785.00" y="1617.84" font-size="20.31" font-weight="400" fill="#005e9d" textLength="295.67" lengthAdjust="spacingAndGlyphs">la minima (febbraio) è di 303 mm.</text>
<text x="785.00" y="1665.26" font-size="20.31" font-weight="400" fill="#005e9d" textLength="355.75" lengthAdjust="spacingAndGlyphs">Le precipitazioni più intense si verificano</text>
<text x="785.00" y="1688.97" font-size="20.31" font-weight="400" fill="#005e9d" textLength="338.19" lengthAdjust="spacingAndGlyphs">a novembre, con una quantità mensile</text>
<text x="785.00" y="1712.68" font-size="20.31" font-weight="400" fill="#005e9d" textLength="269.11" lengthAdjust="spacingAndGlyphs">di 351 mm e una probabilità di</text>
<text x="785.00" y="1736.39" font-size="20.31" font-weight="400" fill="#005e9d" textLength="268.55" lengthAdjust="spacingAndGlyphs">precipitazioni di circa il 82%. Al</text>
<text x="785.00" y="1760.10" font-size="20.31" font-weight="400" fill="#005e9d" textLength="336.00" lengthAdjust="spacingAndGlyphs">contrario, le precipitazioni più basse si</text>
<text x="785.00" y="1783.81" font-size="20.31" font-weight="400" fill="#005e9d" textLength="345.86" lengthAdjust="spacingAndGlyphs">registrano a febbraio, con una media di</text>
<text x="785.00" y="1807.52" font-size="20.31" font-weight="400" fill="#005e9d" textLength="298.72" lengthAdjust="spacingAndGlyphs">48 mm e una probabilità dell&#x27;21%.</text>
<text x="786.00" y="1953.65" font-size="19.53" font-weight="700" fill="#005e9d" stroke="#005e9d" stroke-width="0.51" stroke-linejoin="round" textLength="235.56" lengthAdjust="spacingAndGlyphs">PRECIPITAZIONI PER TIPO</text>
<text x="785.00" y="1986.70" font-size="20.31" font-weight="400" fill="#005e9d" textLength="132.97" lengthAdjust="spacingAndGlyphs">• Pioggia: 100%</text>
<text x="785.00" y="2015.70" font-size="20.31" font-weight="400" fill="#005e9d" textLength="93.03" lengthAdjust="spacingAndGlyphs">• Neve: 0%</text>
<text x="987.70" y="2119.70" font-size="22.9" font-weight="700" fill="#fff" stroke="#fff" stroke-width="0.60" stroke-linejoin="round" textLength="170.60" lengthAdjust="spacingAndGlyphs">METEOATLAS.IT</text>
<text x="184.60" y="2117.09" font-size="15.8" font-weight="700" fill="#b0ddfe" stroke="#b0ddfe" stroke-width="0.41" stroke-linejoin="round" textLength="115.20" lengthAdjust="spacingAndGlyphs">CC BY-ND 4.0</text>
<text x="69.96" y="753.70" font-size="11.42" font-weight="400" fill="#005e9d" textLength="24.64" lengthAdjust="spacingAndGlyphs">32°C</text>
<text x="69.96" y="808.50" font-size="11.42" font-weight="400" fill="#005e9d" textLength="24.64" lengthAdjust="spacingAndGlyphs">30°C</text>
<text x="69.96" y="863.30" font-size="11.42" font-weight="400" fill="#005e9d" textLength="24.64" lengthAdjust="spacingAndGlyphs">28°C</text>
<text x="69.96" y="918.10" font-size="11.42" font-weight="400" fill="#005e9d" textLength="24.64" lengthAdjust="spacingAndGlyphs">26°C</text>
<text x="69.96" y="972.90" font-size="11.42" font-weight="400" fill="#005e9d" textLength="24.64" lengthAdjust="spacingAndGlyphs">24°C</text>
<text x="69.96" y="1027.70" font-size="11.42" font-weight="400" fill="#005e9d" textLength="24.64" lengthAdjust="spacingAndGlyphs">22°C</text>
<text x="116.48" y="1046.40" font-size="13.6" font-weight="400" fill="#005e9d" textLength="25.36" lengthAdjust="spacingAndGlyphs">Gen</text>
<text x="170.02" y="1046.40" font-size="13.6" font-weight="400" fill="#005e9d" textLength="22.53" lengthAdjust="spacingAndGlyphs">Feb</text>
<text x="220.99" y="1046.40" font-size="13.6" font-weight="400" fill="#005e9d" textLength="24.84" lengthAdjust="spacingAndGlyphs">Mar</text>
<text x="274.52" y="1046.40" font-size="13.6" font-weight="400" fill="#005e9d" textLength="22.03" lengthAdjust="spacingAndGlyphs">Apr</text>
<text x="324.34" y="1046.40" font-size="13.6" font-weight="400" fill="#005e9d" textLength="26.64" lengthAdjust="spacingAndGlyphs">Mag</text>
<text x="379.17" y="1046.40" font-size="13.6" font-weight="400" fill="#005e9d" textLength="21.23" lengthAdjust="spacingAndGlyphs">Giu</text>
<text x="430.73" y="1046.40" font-size="13.6" font-weight="400" fill="#005e9d" textLength="22.38" lengthAdjust="spacingAndGlyphs">Lug</text>
<text x="482.19" y="1046.40" font-size="13.6" font-weight="400" fill="#005e9d" textLength="23.69" lengthAdjust="spacingAndGlyphs">Ago</text>
<text x="536.39" y="1046.40" font-size="13.6" font-weight="400" fill="#005e9d" textLength="19.55" lengthAdjust="spacingAndGlyphs">Set</text>
<text x="588.35" y="1046.40" font-size="13.6" font-weight="400" fill="#005e9d" textLength="19.88" lengthAdjust="spacingAndGlyphs">Ott</text>
<text x="638.05" y="1046.40" font-size="13.6" font-weight="400" fill="#005e9d" textLength="24.72" lengthAdjust="spacingAndGlyphs">Nov</text>
<text x="692.83" y="1046.40" font-size="13.6" font-weight="400" fill="#005e9d" textLength="19.42" lengthAdjust="spacingAndGlyphs">Dic</text>
<text x="-40.72" y="0.00" font-size="13.6" font-weight="400" fill="#005e9d" textLength="81.44" lengthAdjust="spacingAndGlyphs" transform="translate(50.00,887.70) rotate(-90)">Temperatura</text>
<text x="235.50" y="1084.30" font-size="13.6" font-weight="400" fill="#005e9d" textLength="140.45" lengthAdjust="spacingAndGlyphs">Temperatura massima</text>
<text x="445.50" y="1084.30" font-size="13.6" font-weight="400" fill="#005e9d" textLength="131.89" lengthAdjust="spacingAndGlyphs">Temperatura minima</text>
<text x="68.42" y="1211.52" font-size="17.8" font-weight="700" fill="#853a02" stroke="#853a02" stroke-width="0.46" stroke-linejoin="round" textLength="36.42" lengthAdjust="spacingAndGlyphs">GEN</text>
<text x="65.14" y="1270.64" font-size="28.0" font-weight="700" fill="#853a02" stroke="#853a02" stroke-width="0.73" stroke-linejoin="round" textLength="43.78" lengthAdjust="spacingAndGlyphs">25°</text>
<text x="164.56" y="1211.52" font-size="17.8" font-weight="700" fill="#853a02" stroke="#853a02" stroke-width="0.46" stroke-linejoin="round" textLength="30.62" lengthAdjust="spacingAndGlyphs">FEB</text>
<text x="158.39" y="1270.64" font-size="28.0" font-weight="700" fill="#853a02" stroke="#853a02" stroke-width="0.73" stroke-linejoin="round" textLength="43.78" lengthAdjust="spacingAndGlyphs">26°</text>
<text x="253.12" y="1211.52" font-size="17.8" font-weight="700" fill="#853a02" stroke="#853a02" stroke-width="0.46" stroke-linejoin="round" textLength="40.00" lengthAdjust="spacingAndGlyphs">MAR</text>
<text x="251.64" y="1270.64" font-size="28.0" font-weight="700" fill="#853a02" stroke="#853a02" stroke-width="0.73" stroke-linejoin="round" textLength="43.78" lengthAdjust="spacingAndGlyphs">27°</text>
<text x="349.26" y="1211.52" font-size="17.8" font-weight="700" fill="#853a02" stroke="#853a02" stroke-width="0.46" stroke-linejoin="round" textLength="34.23" lengthAdjust="spacingAndGlyphs">APR</text>
<text x="344.89" y="1270.64" font-size="28.0" font-weight="700" fill="#853a02" stroke="#853a02" stroke-width="0.73" stroke-linejoin="round" textLength="43.78" lengthAdjust="spacingAndGlyphs">28°</text>
<text x="439.04" y="1211.52" font-size="17.8" font-weight="700" fill="#853a02" stroke="#853a02" stroke-width="0.46" stroke-linejoin="round" textLength="41.18" lengthAdjust="spacingAndGlyphs">MAG</text>
<text x="438.14" y="1270.64" font-size="28.0" font-weight="700" fill="#853a02" stroke="#853a02" stroke-width="0.73" stroke-linejoin="round" textLength="43.78" lengthAdjust="spacingAndGlyphs">28°</text>
<text x="537.29" y="1211.52" font-size="17.8" font-weight="700" fill="#853a02" stroke="#853a02" stroke-width="0.46" stroke-linejoin="round" textLength="31.17" lengthAdjust="spacingAndGlyphs">GIU</text>
<text x="531.39" y="1270.64" font-size="28.0" font-weight="700" fill="#853a02" stroke="#853a02" stroke-width="0.73" stroke-linejoin="round" textLength="43.78" lengthAdjust="spacingAndGlyphs">26°</text>
<text x="628.39" y="1211.52" font-size="17.8" font-weight="700" fill="#853a02" stroke="#853a02" stroke-width="0.46" stroke-linejoin="round" textLength="35.47" lengthAdjust="spacingAndGlyphs">LUG</text>
<text x="624.64" y="1270.64" font-size="28.0" font-weight="700" fill="#853a02" stroke="#853a02" stroke-width="0.73" stroke-linejoin="round" textLength="43.78" lengthAdjust="spacingAndGlyphs">26°</text>
<text x="720.14" y="1211.52" font-size="17.8" font-weight="700" fill="#853a02" stroke="#853a02" stroke-width="0.46" stroke-linejoin="round" textLength="38.48" lengthAdjust="spacingAndGlyphs">AGO</text>
<text x="717.89" y="1270.64" font-size="28.0" font-weight="700" fill="#853a02" stroke="#853a02" stroke-width="0.73" stroke-linejoin="round" textLength="43.78" lengthAdjust="spacingAndGlyphs">26°</text>
<text x="818.14" y="1211.52" font-size="17.8" font-weight="700" fill="#853a02" stroke="#853a02" stroke-width="0.46" stroke-linejoin="round" textLength="28.96" lengthAdjust="spacingAndGlyphs">SET</text>
<text x="811.14" y="1270.64" font-size="28.0" font-weight="700" fill="#853a02" stroke="#853a02" stroke-width="0.73" stroke-linejoin="round" textLength="43.78" lengthAdjust="spacingAndGlyphs">26°</text>
<text x="908.98" y="1211.52" font-size="17.8" font-weight="700" fill="#853a02" stroke="#853a02" stroke-width="0.46" stroke-linejoin="round" textLength="33.79" lengthAdjust="spacingAndGlyphs">OTT</text>
<text x="904.39" y="1270.64" font-size="28.0" font-weight="700" fill="#853a02" stroke="#853a02" stroke-width="0.73" stroke-linejoin="round" textLength="43.78" lengthAdjust="spacingAndGlyphs">26°</text>
<text x="999.44" y="1211.52" font-size="17.8" font-weight="700" fill="#853a02" stroke="#853a02" stroke-width="0.46" stroke-linejoin="round" textLength="39.38" lengthAdjust="spacingAndGlyphs">NOV</text>
<text x="997.64" y="1270.64" font-size="28.0" font-weight="700" fill="#853a02" stroke="#853a02" stroke-width="0.73" stroke-linejoin="round" textLength="43.78" lengthAdjust="spacingAndGlyphs">26°</text>
<text x="1097.72" y="1211.52" font-size="17.8" font-weight="700" fill="#853a02" stroke="#853a02" stroke-width="0.46" stroke-linejoin="round" textLength="29.30" lengthAdjust="spacingAndGlyphs">DIC</text>
<text x="1090.89" y="1270.64" font-size="28.0" font-weight="700" fill="#853a02" stroke="#853a02" stroke-width="0.73" stroke-linejoin="round" textLength="43.78" lengthAdjust="spacingAndGlyphs">26°</text>
<text x="74.27" y="1787.80" font-size="11.42" font-weight="400" fill="#005e9d" textLength="30.03" lengthAdjust="spacingAndGlyphs">0 mm</text>
<text x="67.88" y="1753.42" font-size="11.42" font-weight="400" fill="#005e9d" textLength="36.42" lengthAdjust="spacingAndGlyphs">50 mm</text>
<text x="61.49" y="1719.05" font-size="11.42" font-weight="400" fill="#005e9d" textLength="42.81" lengthAdjust="spacingAndGlyphs">100 mm</text>
<text x="61.49" y="1684.67" font-size="11.42" font-weight="400" fill="#005e9d" textLength="42.81" lengthAdjust="spacingAndGlyphs">150 mm</text>
<text x="61.49" y="1650.30" font-size="11.42" font-weight="400" fill="#005e9d" textLength="42.81" lengthAdjust="spacingAndGlyphs">200 mm</text>
<text x="61.49" y="1615.92" font-size="11.42" font-weight="400" fill="#005e9d" textLength="42.81" lengthAdjust="spacingAndGlyphs">250 mm</text>
<text x="61.49" y="1581.55" font-size="11.42" font-weight="400" fill="#005e9d" textLength="42.81" lengthAdjust="spacingAndGlyphs">300 mm</text>
<text x="61.49" y="1547.17" font-size="11.42" font-weight="400" fill="#005e9d" textLength="42.81" lengthAdjust="spacingAndGlyphs">350 mm</text>
<text x="61.49" y="1512.80" font-size="11.42" font-weight="400" fill="#005e9d" textLength="42.81" lengthAdjust="spacingAndGlyphs">400 mm</text>
<text x="126.97" y="1804.50" font-size="13.6" font-weight="400" fill="#005e9d" textLength="25.36" lengthAdjust="spacingAndGlyphs">Gen</text>
<text x="179.67" y="1804.50" font-size="13.6" font-weight="400" fill="#005e9d" textLength="22.53" lengthAdjust="spacingAndGlyphs">Feb</text>
<text x="229.81" y="1804.50" font-size="13.6" font-weight="400" fill="#005e9d" textLength="24.84" lengthAdjust="spacingAndGlyphs">Mar</text>
<text x="282.51" y="1804.50" font-size="13.6" font-weight="400" fill="#005e9d" textLength="22.03" lengthAdjust="spacingAndGlyphs">Apr</text>
<text x="331.49" y="1804.50" font-size="13.6" font-weight="400" fill="#005e9d" textLength="26.64" lengthAdjust="spacingAndGlyphs">Mag</text>
<text x="385.49" y="1804.50" font-size="13.6" font-weight="400" fill="#005e9d" textLength="21.23" lengthAdjust="spacingAndGlyphs">Giu</text>
<text x="436.21" y="1804.50" font-size="13.6" font-weight="400" fill="#005e9d" textLength="22.38" lengthAdjust="spacingAndGlyphs">Lug</text>
<text x="486.84" y="1804.50" font-size="13.6" font-weight="400" fill="#005e9d" textLength="23.69" lengthAdjust="spacingAndGlyphs">Ago</text>
<text x="540.21" y="1804.50" font-size="13.6" font-weight="400" fill="#005e9d" textLength="19.55" lengthAdjust="spacingAndGlyphs">Set</text>
<text x="591.33" y="1804.50" font-size="13.6" font-weight="400" fill="#005e9d" textLength="19.88" lengthAdjust="spacingAndGlyphs">Ott</text>
<text x="640.20" y="1804.50" font-size="13.6" font-weight="400" fill="#005e9d" textLength="24.72" lengthAdjust="spacingAndGlyphs">Nov</text>
<text x="694.14" y="1804.50" font-size="13.6" font-weight="400" fill="#005e9d" textLength="19.42" lengthAdjust="spacingAndGlyphs">Dic</text>
<text x="-41.77" y="0.00" font-size="13.6" font-weight="400" fill="#005e9d" textLength="83.55" lengthAdjust="spacingAndGlyphs" transform="translate(50.00,1647.50) rotate(-90)">Precipitazioni</text>
<text x="331.80" y="1842.60" font-size="13.6" font-weight="400" fill="#005e9d" textLength="125.52" lengthAdjust="spacingAndGlyphs">Totale precipitazioni</text>
<text x="261.20" y="1892.49" font-size="16.0" font-weight="700" fill="#fff" stroke="#fff" stroke-width="0.42" stroke-linejoin="round" textLength="255.59" lengthAdjust="spacingAndGlyphs">PROBABILITÀ DI PRECIPITAZIONI</text>
<text x="48.12" y="1972.77" font-size="17.33" font-weight="700" fill="#fff" stroke="#fff" stroke-width="0.45" stroke-linejoin="round" textLength="35.56" lengthAdjust="spacingAndGlyphs">47%</text>
<text x="52.91" y="2008.70" font-size="12.36" font-weight="700" fill="#005e9d" textLength="25.17" lengthAdjust="spacingAndGlyphs">GEN</text>
<text x="106.57" y="1972.77" font-size="17.33" font-weight="700" fill="#fff" stroke="#fff" stroke-width="0.45" stroke-linejoin="round" textLength="35.56" lengthAdjust="spacingAndGlyphs">21%</text>
<text x="113.26" y="2008.70" font-size="12.36" font-weight="700" fill="#005e9d" textLength="21.38" lengthAdjust="spacingAndGlyphs">FEB</text>
<text x="165.02" y="1972.77" font-size="17.33" font-weight="700" fill="#fff" stroke="#fff" stroke-width="0.45" stroke-linejoin="round" textLength="35.56" lengthAdjust="spacingAndGlyphs">23%</text>
<text x="168.64" y="2008.70" font-size="12.36" font-weight="700" fill="#005e9d" textLength="27.52" lengthAdjust="spacingAndGlyphs">MAR</text>
<text x="223.47" y="1972.77" font-size="17.33" font-weight="700" fill="#fff" stroke="#fff" stroke-width="0.45" stroke-linejoin="round" textLength="35.56" lengthAdjust="spacingAndGlyphs">48%</text>
<text x="228.98" y="2008.70" font-size="12.36" font-weight="700" fill="#005e9d" textLength="23.75" lengthAdjust="spacingAndGlyphs">APR</text>
<text x="281.92" y="1972.77" font-size="17.33" font-weight="700" fill="#fff" stroke="#fff" stroke-width="0.45" stroke-linejoin="round" textLength="35.56" lengthAdjust="spacingAndGlyphs">80%</text>
<text x="285.15" y="2008.70" font-size="12.36" font-weight="700" fill="#005e9d" textLength="28.30" lengthAdjust="spacingAndGlyphs">MAG</text>
<text x="340.37" y="1972.77" font-size="17.33" font-weight="700" fill="#fff" stroke="#fff" stroke-width="0.45" stroke-linejoin="round" textLength="35.56" lengthAdjust="spacingAndGlyphs">82%</text>
<text x="346.88" y="2008.70" font-size="12.36" font-weight="700" fill="#005e9d" textLength="21.73" lengthAdjust="spacingAndGlyphs">GIU</text>
<text x="398.82" y="1972.77" font-size="17.33" font-weight="700" fill="#fff" stroke="#fff" stroke-width="0.45" stroke-linejoin="round" textLength="35.56" lengthAdjust="spacingAndGlyphs">78%</text>
<text x="403.93" y="2008.70" font-size="12.36" font-weight="700" fill="#005e9d" textLength="24.55" lengthAdjust="spacingAndGlyphs">LUG</text>
<text x="457.27" y="1972.77" font-size="17.33" font-weight="700" fill="#fff" stroke="#fff" stroke-width="0.45" stroke-linejoin="round" textLength="35.56" lengthAdjust="spacingAndGlyphs">75%</text>
<text x="461.38" y="2008.70" font-size="12.36" font-weight="700" fill="#005e9d" textLength="26.53" lengthAdjust="spacingAndGlyphs">AGO</text>
<text x="515.72" y="1972.77" font-size="17.33" font-weight="700" fill="#fff" stroke="#fff" stroke-width="0.45" stroke-linejoin="round" textLength="35.56" lengthAdjust="spacingAndGlyphs">79%</text>
<text x="522.96" y="2008.70" font-size="12.36" font-weight="700" fill="#005e9d" textLength="20.28" lengthAdjust="spacingAndGlyphs">SET</text>
<text x="574.17" y="1972.77" font-size="17.33" font-weight="700" fill="#fff" stroke="#fff" stroke-width="0.45" stroke-linejoin="round" textLength="35.56" lengthAdjust="spacingAndGlyphs">80%</text>
<text x="579.82" y="2008.70" font-size="12.36" font-weight="700" fill="#005e9d" textLength="23.45" lengthAdjust="spacingAndGlyphs">OTT</text>
<text x="632.62" y="1972.77" font-size="17.33" font-weight="700" fill="#fff" stroke="#fff" stroke-width="0.45" stroke-linejoin="round" textLength="35.56" lengthAdjust="spacingAndGlyphs">82%</text>
<text x="636.45" y="2008.70" font-size="12.36" font-weight="700" fill="#005e9d" textLength="27.11" lengthAdjust="spacingAndGlyphs">NOV</text>
<text x="691.07" y="1972.77" font-size="17.33" font-weight="700" fill="#fff" stroke="#fff" stroke-width="0.45" stroke-linejoin="round" textLength="35.56" lengthAdjust="spacingAndGlyphs">60%</text>
<text x="698.19" y="2008.70" font-size="12.36" font-weight="700" fill="#005e9d" textLength="20.52" lengthAdjust="spacingAndGlyphs">DIC</text>
</g>
</svg></body></html>
